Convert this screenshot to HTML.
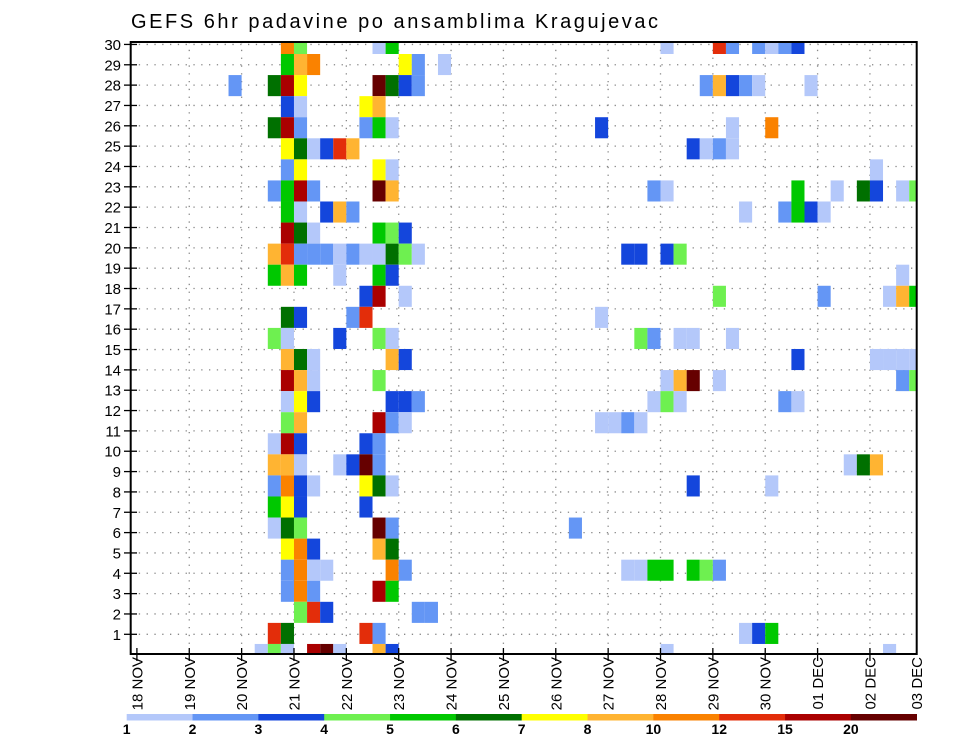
<!DOCTYPE html>
<html><head><meta charset="utf-8"><title>GEFS 6hr padavine</title>
<style>
html,body{margin:0;padding:0;background:#fff;}
svg{display:block;font-family:"Liberation Sans",sans-serif;}
</style></head>
<body>
<svg id="chart" width="960" height="742" viewBox="0 0 960 742" xmlns="http://www.w3.org/2000/svg">
<rect x="0" y="0" width="960" height="742" fill="#fff"/>
<text x="131" y="28" font-size="20" textLength="527" lengthAdjust="spacing" fill="#000">GEFS 6hr padavine po ansamblima Kragujevac</text>
<defs><clipPath id="plotclip"><rect x="131" y="42" width="786" height="612"/></clipPath></defs>
<g id="grid"></g>
<g id="cells" clip-path="url(#plotclip)"></g>
<rect x="130.7" y="42" width="786" height="612" fill="none" stroke="#000" stroke-width="2"/>
<g id="yaxis"></g>
<g id="xaxis"></g>
<g id="legend"></g>
</svg>
<script>
// ---- data ----
const dayLabels = ["18 NOV","19 NOV","20 NOV","21 NOV","22 NOV","23 NOV","24 NOV","25 NOV","26 NOV","27 NOV","28 NOV","29 NOV","30 NOV","01 DEC","02 DEC","03 DEC"];
const memberTicks = [1,2,3,4,5,6,7,8,9,10,11,12,13,14,15,16,17,18,19,20,21,22,23,24,25,26,27,28,29,30];
const levelLabels = ["1","2","3","4","5","6","7","8","10","12","15","20"];
const levelEdges = [1,2,3,4,5,6,7,8,10,12,15,20];
const levelColors = ["#b4c8fa","#6496f5","#1446dc","#6ef050","#00c800","#007000","#ffff00","#ffb432","#fa8200","#e32d0a","#aa0000","#660000"];
// cells: ensemble member, 6-hour step index from 18 NOV 00Z, precipitation (mm)
const cellMember = [
30,30,30,30,30,30,30,30,30,30,30,
29,29,29,29,29,29,
28,28,28,28,28,28,28,28,28,28,28,28,28,28,
27,27,27,27,
26,26,26,26,26,26,26,26,26,
25,25,25,25,25,25,25,25,25,25,
24,24,24,24,24,
23,23,23,23,23,23,23,23,23,23,23,23,23,23,
22,22,22,22,22,22,22,22,22,22,
21,21,21,21,21,21,
20,20,20,20,20,20,20,20,20,20,20,20,20,20,20,20,
19,19,19,19,19,19,19,
18,18,18,18,18,18,18,18,
17,17,17,17,17,
16,16,16,16,16,16,16,16,16,16,
15,15,15,15,15,15,15,15,15,15,
14,14,14,14,14,14,14,14,14,14,
13,13,13,13,13,13,13,13,13,13,13,
12,12,12,12,12,12,12,12,12,
11,11,11,11,11,
10,10,10,10,10,10,10,10,10,10,
9,9,9,9,9,9,9,9,9,
8,8,8,8,
7,7,7,7,7,7,
6,6,6,6,6,
5,5,5,5,5,5,5,5,5,5,5,5,5,
4,4,4,4,4,
3,3,3,3,3,
2,2,2,2,2,2,2,
1,1,1,1,1,1,1,1,1,1];
const cellStep = [
11,12,18,19,40,44,45,47,48,49,50,
11,12,13,20,21,23,
7,10,11,12,18,19,20,21,43,44,45,46,47,51,
11,12,17,18,
10,11,12,17,18,19,35,45,48,
11,12,13,14,15,16,42,43,44,45,
11,12,18,19,56,
10,11,12,13,18,19,39,40,50,53,55,56,58,59,
11,12,14,15,16,46,49,50,51,52,
11,12,13,18,19,20,
10,11,12,13,14,15,16,17,18,19,20,21,37,38,40,41,
10,11,12,15,18,19,58,
17,18,20,44,52,57,58,59,
11,12,16,17,35,
10,11,15,18,19,38,39,41,42,45,
11,12,13,19,20,50,56,57,58,59,
11,12,13,18,40,41,42,44,58,59,
11,12,13,19,20,21,39,40,41,49,50,
11,12,18,19,20,35,36,37,38,
10,11,12,17,18,
10,11,12,15,16,17,18,54,55,56,
10,11,12,13,17,18,19,42,48,
10,11,12,17,
10,11,12,18,19,33,
11,12,13,18,19,
11,12,13,14,19,20,37,38,39,40,42,43,44,
11,12,13,18,19,
12,13,14,21,22,
10,11,17,18,46,47,48,
9,10,11,13,14,15,18,19,40,57];
const cellValue = [
11,4.5,1.5,5.5,1.5,13.5,2.5,2.5,1.5,2.5,3.5,
5.5,9,11,7.5,2.5,1.5,
2.5,6.5,17,7.5,25,6.5,3.5,2.5,2.5,9,3.5,2.5,1.5,1.5,
3.5,1.5,7.5,9,
6.5,17,2.5,2.5,5.5,1.5,3.5,1.5,11,
7.5,6.5,1.5,3.5,13.5,9,3.5,1.5,2.5,1.5,
2.5,7.5,7.5,1.5,1.5,
2.5,5.5,17,2.5,25,9,2.5,1.5,5.5,1.5,6.5,3.5,1.5,4.5,
5.5,1.5,3.5,9,2.5,1.5,2.5,5.5,3.5,1.5,
17,6.5,1.5,5.5,4.5,3.5,
9,13.5,2.5,2.5,2.5,1.5,2.5,1.5,1.5,6.5,4.5,1.5,3.5,3.5,3.5,4.5,
5.5,9,5.5,1.5,5.5,3.5,1.5,
3.5,17,1.5,4.5,2.5,1.5,9,5.5,
6.5,3.5,2.5,13.5,1.5,
4.5,1.5,3.5,4.5,1.5,4.5,2.5,1.5,1.5,1.5,
9,6.5,1.5,9,3.5,3.5,1.5,1.5,1.5,1.5,
17,9,1.5,4.5,1.5,9,25,1.5,2.5,4.5,
1.5,7.5,3.5,3.5,3.5,2.5,1.5,4.5,1.5,2.5,1.5,
4.5,9,17,2.5,1.5,1.5,1.5,2.5,1.5,
1.5,17,3.5,3.5,2.5,
9,9,1.5,1.5,3.5,25,2.5,1.5,6.5,9,
2.5,11,3.5,1.5,7.5,6.5,1.5,3.5,1.5,
5.5,7.5,3.5,3.5,
1.5,6.5,4.5,25,2.5,2.5,
7.5,11,3.5,9,6.5,
2.5,11,1.5,1.5,11,2.5,1.5,1.5,5.5,5.5,5.5,4.5,2.5,
2.5,11,2.5,17,5.5,
4.5,13.5,3.5,2.5,2.5,
13.5,6.5,13.5,2.5,1.5,3.5,5.5,
1.5,4.5,1.5,17,25,1.5,9,3.5,1.5,1.5];

// ---- axes ----
const NS = "http://www.w3.org/2000/svg";
const X0 = 136.9, DAY = 52.36, STEP = DAY / 4;
const BAND_TOP = 54, BAND_H = 21.07;
function xStep(t){ return X0 + t * STEP; }
function xDay(d){ return Math.min(X0 + d * DAY, 916.7); }
function yTick(m){ return 634.3 - (m - 1) * 20.34; }
function yBand(m){ return BAND_TOP + (29 - m) * BAND_H; }
function colorFor(v){
  let idx = 0;
  for (let i = 0; i < levelEdges.length; i++) if (v >= levelEdges[i]) idx = i;
  return levelColors[idx];
}
function mk(tag, attrs, parent){
  const el = document.createElementNS(NS, tag);
  for (const k in attrs) el.setAttribute(k, attrs[k]);
  parent.appendChild(el);
  return el;
}

// grid
const grid = document.getElementById('grid');
memberTicks.forEach(m => {
  const l = mk('line', {x1:131, x2:917, y1:yTick(m), y2:yTick(m), stroke:'#888', 'stroke-width':1.3, 'stroke-dasharray':'1.3 6.5'}, grid);
  
  
});
dayLabels.forEach((lab, d) => {
  if (d === 0 || d === dayLabels.length - 1) return;
  const l = mk('line', {x1:xDay(d), x2:xDay(d), y1:42, y2:654, stroke:'#888', 'stroke-width':1.3, 'stroke-dasharray':'1.3 6.5'}, grid);
  
  
});

// cells
const cells = document.getElementById('cells');
for (let i = 0; i < cellValue.length; i++) {
  const r = mk('rect', {x:xStep(cellStep[i]).toFixed(2), y:yBand(cellMember[i]).toFixed(2), width:STEP.toFixed(2), height:BAND_H, fill:colorFor(cellValue[i])}, cells);
  
  
}

// y axis
const ya = document.getElementById('yaxis');
memberTicks.forEach(m => {
  const tk = mk('line', {x1:124, x2:137, y1:yTick(m), y2:yTick(m), stroke:'#000', 'stroke-width':1.3}, ya);
  
  
  const t = mk('text', {x:121, y:yTick(m) + 5.5, 'font-size':15, 'text-anchor':'end', fill:'#000'}, ya);
  t.textContent = String(m);
  
  
});

// x axis
const xa = document.getElementById('xaxis');
dayLabels.forEach((lab, d) => {
  const x = xDay(d);
  if (d < dayLabels.length - 1) {
    const tk = mk('line', {x1:x, x2:x, y1:648, y2:661, stroke:'#000', 'stroke-width':1.3}, xa);
    
    
  }
  const lx = (d === dayLabels.length - 1) ? 916.5 : x;
  const t = mk('text', {x:0, y:0, 'font-size':15, 'text-anchor':'end', fill:'#000', transform:'translate(' + (lx + 5.5) + ',657) rotate(-90)'}, xa);
  t.textContent = lab;
  
  
});

// legend
const lg = document.getElementById('legend');
const segW = (916.7 - 126.7) / levelColors.length;
levelColors.forEach((c, i) => {
  const r = mk('rect', {x:126.7 + i * segW, y:714, width:segW + 0.3, height:6.5, fill:c}, lg);
  
  
});
levelLabels.forEach((lab, i) => {
  const t = mk('text', {x:126.7 + i * segW, y:734, 'font-size':14, 'font-weight':'bold', 'text-anchor':'middle', fill:'#000'}, lg);
  t.textContent = lab;
  
  
});
</script>
</body></html>
